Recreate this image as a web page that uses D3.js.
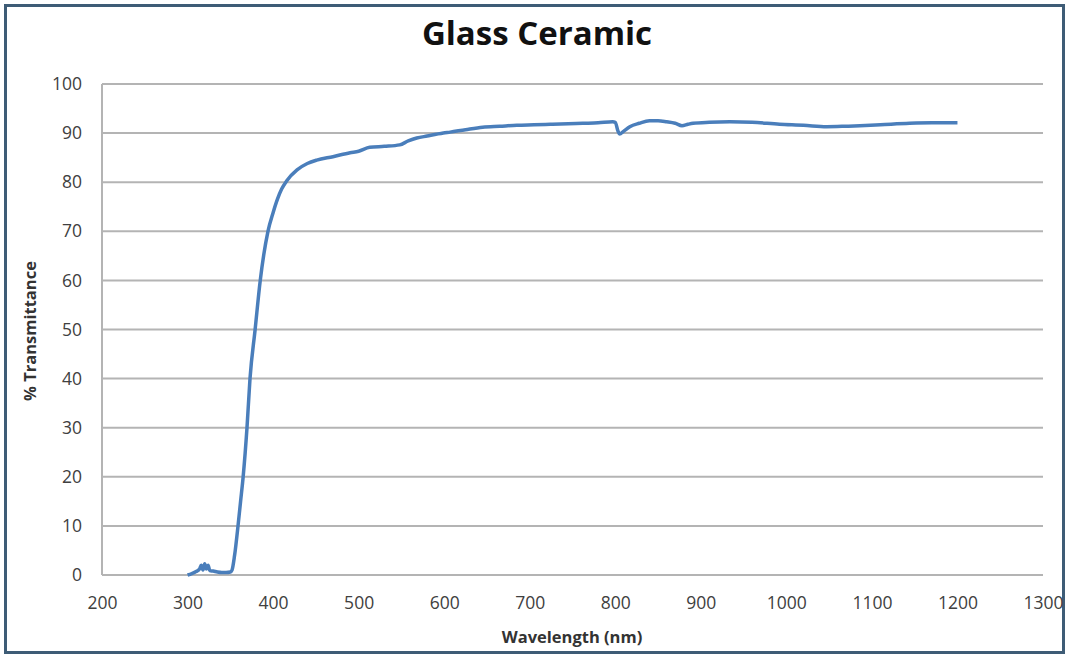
<!DOCTYPE html>
<html><head><meta charset="utf-8">
<script src="https://cdn.jsdelivr.net/npm/d3@7"></script>
<style>body{margin:0;background:#fff}svg{display:block}</style>
</head><body>
<svg id="c" width="1069" height="658"></svg>
<script>
const wavelength = [300,305,310,314,316,318,320,322,324,326,330,335,340,345,350,352,355,359,362,365,369.5,373,379,385,394,400,405,410,416,428,440,451,470,490,500,513,530,548,558,568,580,599,607,625,645,665,685,705,724,745,762,780,797,800,803,805,810,817,828,840,850,860,870,878,885,891,910,934,960,992,1020,1047,1070,1086,1110,1144,1170,1200];
const transmittance = [0,0.3,0.7,1.2,2.0,1.0,2.3,1.2,2.0,0.9,0.8,0.6,0.5,0.5,0.6,1.0,4,10,15,20,30,40,50,60,70,73.8,76.5,78.6,80.3,82.5,83.8,84.5,85.2,86,86.3,87.1,87.3,87.6,88.4,89,89.4,90,90.2,90.7,91.2,91.4,91.6,91.7,91.8,91.9,92,92.1,92.3,92.2,90.5,89.8,90.4,91.3,92.0,92.5,92.5,92.3,92.0,91.5,91.8,92.0,92.2,92.3,92.2,91.8,91.6,91.3,91.4,91.5,91.7,92.0,92.1,92.1];
const xTicks = [200,300,400,500,600,700,800,900,1000,1100,1200,1300];
const yTicks = [0,10,20,30,40,50,60,70,80,90,100];

const FONT = '"Open Sans", Lato, sans-serif';
const svg = d3.select('#c');
svg.append('rect').attr('x',5.5).attr('y',5.5).attr('width',1058).attr('height',647)
  .attr('fill','#fff').attr('stroke','#3e5c76').attr('stroke-width',3);

const x = d3.scaleLinear().domain([200,1300]).range([102,1043]);
const y = d3.scaleLinear().domain([0,100]).range([575,84]);

const grid = svg.append('g');
grid.selectAll('line').data(yTicks).join('line')
  .attr('x1',102).attr('x2',1043).attr('y1',d=>y(d)).attr('y2',d=>y(d))
  .attr('stroke','#b4b4b4').attr('stroke-width',2);
grid.append('line').attr('x1',102).attr('x2',102).attr('y1',84).attr('y2',575)
  .attr('stroke','#b4b4b4').attr('stroke-width',2);

const yAxis = svg.append('g').attr('transform','translate(102,0)')
  .call(d3.axisLeft(y).tickValues(yTicks).tickFormat(d3.format('d')).tickSize(0).tickPadding(20));
const xAxis = svg.append('g').attr('transform','translate(0,575)')
  .call(d3.axisBottom(x).tickValues(xTicks).tickFormat(d3.format('d')).tickSize(0).tickPadding(22));
[yAxis,xAxis].forEach(a=>{
  a.select('.domain').remove();
  a.selectAll('text').attr('font-family',FONT).attr('font-size',17.5).attr('fill','#404040');
});

const line = d3.line().x((d,i)=>x(wavelength[i])).y(d=>y(d)).curve(d3.curveMonotoneX);
svg.append('path').datum(transmittance).attr('d',line)
  .attr('fill','none').attr('stroke','#4a7ebb').attr('stroke-width',3.5).attr('stroke-linejoin','round');

svg.append('text').attr('x',537).attr('y',45).attr('text-anchor','middle')
  .attr('font-family',FONT).attr('font-weight','bold').attr('font-size',33)
  .attr('fill','#111').text('Glass Ceramic');
svg.append('text').attr('x',572).attr('y',643).attr('text-anchor','middle')
  .attr('font-family',FONT).attr('font-weight','bold').attr('font-size',16.5)
  .attr('fill','#333').text('Wavelength (nm)');
svg.append('text').attr('transform','translate(36,331) rotate(-90)').attr('text-anchor','middle')
  .attr('font-family',FONT).attr('font-weight','bold').attr('font-size',16.5)
  .attr('fill','#333').text('% Transmittance');
</script>
</body></html>
